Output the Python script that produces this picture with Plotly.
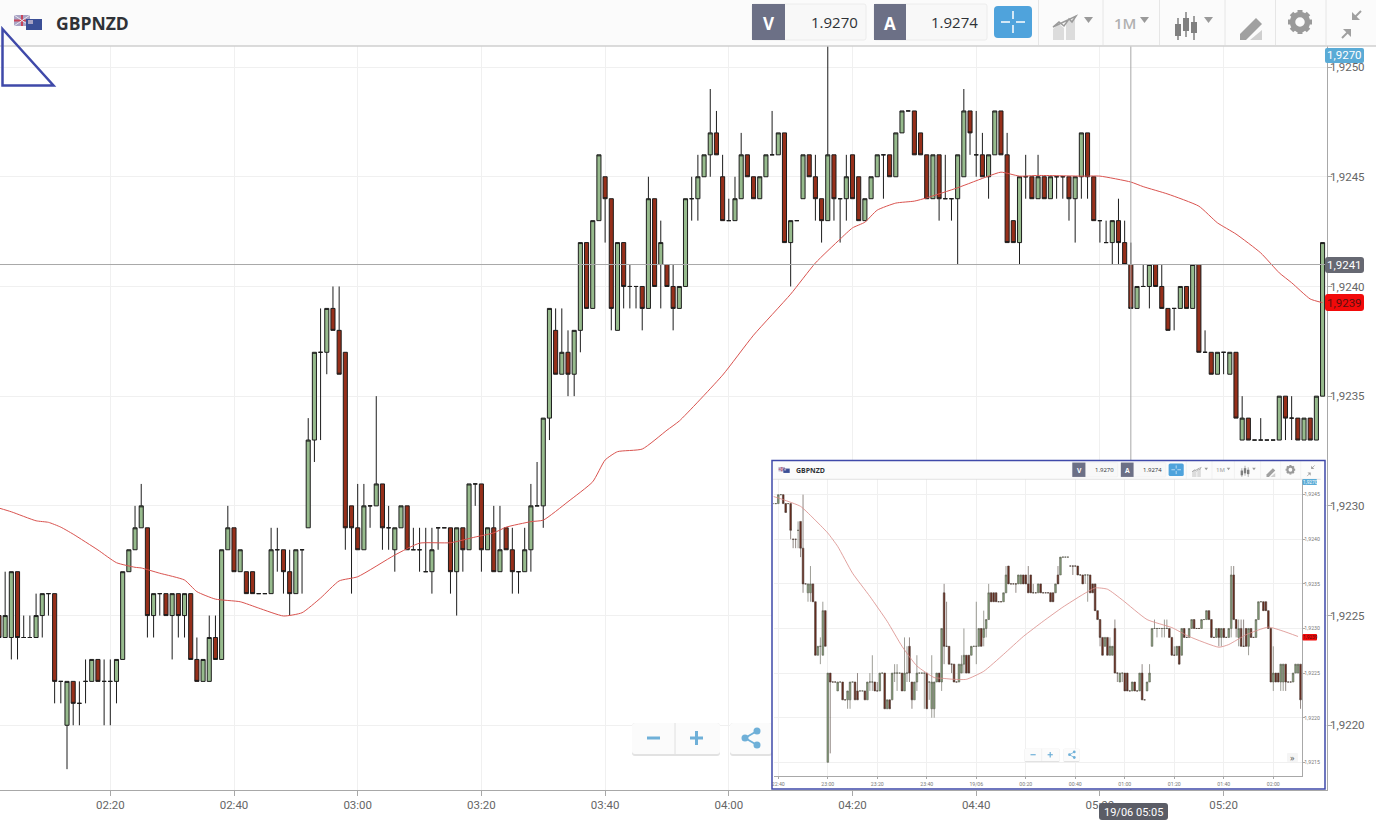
import pandas as pd
import plotly.graph_objects as go

W, H = 1376, 820
PRICE_BASE = 1.92
PIP = 0.0001

# candles as (open, high, low, close) in pips above 1.9200, one per minute
main_start = "2017-06-19 02:02"
main_candles = [
    (25,25,24,24),(24,27,24,25),(24,27,23,27),(27,27,23,24),(24,25,24,24),(24,25,24,24),(24,26,24,25),(25,26,24,26),
    (26,26,25,26),(26,26,21,22),(22,22,21,22),(20,22,18,22),(22,22,20,21),(21,22,20,21),(22,23,21,22),(22,23,22,23),
    (23,23,22,22),(22,23,20,22),(22,23,20,22),(22,23,21,23),(23,27,23,27),(27,28,27,28),(28,30,28,29),(29,31,29,30),
    (29,29,24,25),(25,26,24,26),(26,26,25,26),(26,26,25,25),(25,26,23,26),(26,26,24,25),(25,26,24,26),(26,26,23,23),
    (23,24,22,22),(22,23,22,23),(22,25,22,24),(24,25,23,23),(23,28,23,28),(28,30,28,29),(29,29,27,27),(27,28,27,28),
    (27,27,26,26),(27,27,26,26),(26,26,26,26),(26,26,26,26),(26,29,26,28),(28,29,27,28),(28,28,26,27),(27,28,25,26),
    (26,28,26,28),(28,28,26,28),(29,34,29,33),(33,37,32,37),(37,39,33,37),(37,39,36,39),(39,40,38,38),(38,40,36,36),
    (37,37,28,29),(30,30,26,29),(29,31,28,28),(28,31,28,30),(30,30,29,30),(30,35,30,31),(31,31,28,29),(29,30,28,29),
    (28,29,27,29),(29,30,29,30),(30,30,28,28),(28,29,28,28),(28,29,27,28),(27,29,27,27),(27,29,26,28),(29,29,28,29),
    (29,29,29,29),(29,29,26,27),(27,29,25,29),(29,29,27,28),(28,31,28,31),(31,31,30,31),(31,31,27,28),(28,29,28,29),
    (29,30,27,27),(27,30,27,28),(29,29,28,28),(28,29,26,27),(27,27,26,27),(27,29,27,28),(28,31,27,30),(30,32,30,30),
    (30,34,29,34),(34,39,33,39),(38,39,36,36),(36,39,36,37),(37,38,35,36),(36,38,35,38),(38,42,37,42),(42,42,39,39),
    (39,43,39,43),(43,46,43,46),(45,45,42,44),(44,44,38,39),(38,42,38,42),(42,42,39,40),(40,41,39,40),(40,40,39,40),
    (40,40,38,39),(39,45,39,44),(44,44,40,40),(41,43,39,42),(41,41,40,40),(40,41,38,39),(39,40,39,40),(40,44,40,44),
    (44,45,43,44),(44,46,43,45),(45,46,45,46),(46,49,45,47),(47,48,46,46),(45,46,43,43),(43,44,43,43),(43,45,43,44),
    (44,47,44,46),(46,46,45,45),(45,45,44,44),(44,45,44,45),(45,46,45,46),(46,48,46,46),(46,47,46,47),(47,47,42,42),
    (42,43,40,43),(43,43,43,43),(44,46,44,46),(46,46,45,45),(45,46,43,44),(44,44,42,43),(43,52,43,46),(46,46,43,44),
    (44,44,42,44),(44,46,43,45),(46,46,44,44),(45,45,43,43),(43,44,43,44),(44,45,44,45),(45,46,45,46),(46,46,44,46),
    (46,46,45,45),(45,47,45,47),(47,48,47,48),(48,48,48,48),(48,48,46,46),(47,47,46,46),(46,46,44,44),(44,46,44,46),
    (46,46,43,44),(44,46,44,44),(44,44,43,44),(44,46,41,46),(45,49,45,48),(48,48,46,47),(46,48,45,46),(46,47,45,45),
    (45,46,44,46),(46,48,46,48),(48,48,46,46),(46,47,42,42),(43,43,42,42),(42,45,41,45),(45,46,44,45),(45,45,44,44),
    (44,46,44,45),(45,45,44,44),(44,45,44,45),(45,45,44,45),(45,45,44,45),(45,45,43,44),(44,45,42,45),(45,47,44,47),
    (47,47,44,45),(45,45,43,43),(43,43,42,43),(42,43,42,42),(42,43,41,43),(43,44,41,42),(42,43,41,41),(41,42,39,39),
    (39,40,39,40),(40,41,40,40),(40,41,39,41),(41,41,40,40),(40,41,39,39),(39,39,38,38),(39,39,38,39),(39,40,39,40),
    (40,40,39,39),(39,41,39,41),(41,41,37,37),(37,38,37,37),(37,37,36,36),(36,37,36,37),(37,37,36,37),(36,37,36,37),
    (37,37,34,34),(33,35,33,34),(34,34,33,33),(33,33,33,33),(33,34,33,33),(33,33,33,33),(33,33,33,33),(33,35,33,35),
    (35,35,33,34),(34,35,33,34),(34,34,33,33),(33,34,33,34),(34,34,33,33),(33,35,33,35),(35,42,35,42),
]
main_ma_times = [
    "02:02","02:04","02:08","02:10","02:12","02:14","02:18","02:21","02:24","02:25","02:28","02:32","02:34","02:37",
    "02:41","02:44","02:48","02:51","02:54","02:57","03:00","03:06","03:10","03:15","03:19","03:22","03:24","03:28",
    "03:30","03:34","03:38","03:40","03:42","03:46","03:50","03:52","03:59","04:04","04:10","04:14","04:18","04:20",
    "04:22","04:24","04:27","04:30","04:32","04:37","04:42","04:44","04:47","04:50","04:57","05:00","05:05","05:07",
    "05:11","05:16","05:19","05:22","05:26","05:29","05:31","05:34","05:36",
]
main_ma = [
    29.90,29.73,29.32,29.25,29.03,28.71,27.99,27.41,27.20,27.17,26.93,26.62,26.09,25.75,
    25.63,25.34,24.98,25.13,25.80,26.58,26.77,27.76,28.30,28.32,28.58,28.77,29.03,29.28,
    29.35,30.19,31.10,32.09,32.47,32.59,33.45,33.87,35.96,37.78,39.65,41.07,42.16,42.67,
    42.93,43.48,43.80,43.89,44.04,44.50,45.03,45.21,45.03,45.06,45.03,45.03,44.76,44.55,
    44.21,43.66,42.90,42.39,41.53,40.62,40.17,39.43,39.26,
]
cross_time = "2017-06-19 05:05"
cross_price = 41

inset_start = "2017-06-18 22:38"
inset_candles = [
    (44,44,44,44),(44,44,44,44),(44,45,44,45),(45,45,45,45),(45,45,44,44),(44,44,43,43),(44,44,44,44),(44,44,40,41),
    (40,40,39,40),(40,40,39,40),(41,42,39,41),(42,42,38,39),(39,45,34,35),(35,35,35,35),(34,35,33,35),(34,37,33,35),
    (35,35,33,33),(33,33,27,27),(27,28,27,28),(28,29,26,28),(27,33,27,32),(32,32,28,28),(15,25,15,25),(25,25,16,24),
    (24,24,24,24),(24,24,24,24),(23,24,23,24),(24,24,24,24),(24,24,22,22),(22,22,22,22),(22,23,21,23),(22,24,21,24),
    (24,24,24,24),(24,24,22,22),(23,25,22,22),(23,23,23,23),(23,23,23,23),(23,23,22,22),(22,24,22,24),(24,25,23,24),
    (24,27,23,24),(24,24,23,23),(23,24,23,23),(23,25,23,25),(25,25,25,25),(25,25,21,21),(21,22,21,22),(22,22,21,21),
    (22,25,22,25),(25,26,24,25),(25,26,23,25),(25,25,25,25),(25,25,23,23),(23,29,23,25),(25,28,24,25),(28,29,24,25),
    (24,24,21,22),(22,24,22,24),(24,27,23,25),(25,25,25,25),(25,25,25,25),(25,25,21,25),(25,25,21,21),(24,24,22,24),
    (21,27,20,24),(21,24,20,24),(24,25,24,25),(25,25,24,24),(24,30,23,30),(34,35,26,28),(28,33,28,28),(28,28,26,26),
    (26,26,25,26),(26,26,24,24),(24,24,24,24),(24,26,24,26),(25,27,25,26),(26,30,25,27),(27,27,25,25),(27,27,25,25),
    (27,28,27,28),(28,28,28,28),(28,33,26,28),(28,30,28,30),(30,30,28,28),(29,32,28,30),(30,31,29,31),(31,35,31,34),
    (34,34,33,33),(34,34,33,33),(34,34,33,33),(33,33,33,33),(33,33,33,33),(33,34,33,34),(34,37,34,36),(37,37,35,35),
    (35,35,35,35),(35,35,35,35),(35,35,34,35),(35,36,35,36),(35,36,35,36),(36,36,35,35),(36,36,35,35),(35,37,34,34),
    (36,36,34,34),(34,35,34,34),(34,34,34,34),(34,35,34,35),(35,35,34,34),(34,34,34,34),(34,34,34,34),(34,34,34,34),
    (34,34,33,33),(34,34,33,33),(34,35,34,35),(36,37,35,35),(36,38,36,38),(38,38,38,38),(38,38,38,38),(38,38,38,38),
    (37,37,37,37),(37,37,36,37),(37,37,37,37),(37,37,36,36),(36,36,36,36),(36,36,35,35),(36,36,35,36),(36,36,33,36),
    (36,36,34,34),(35,35,34,34),(35,35,32,32),(32,32,31,31),(31,31,28,29),(29,29,27,27),(28,29,28,29),(29,29,27,27),
    (27,29,27,28),(27,28,27,28),(30,31,25,25),(25,25,24,25),(24,25,24,25),(25,25,24,25),(25,25,23,23),(25,25,23,23),
    (23,23,23,23),(23,24,23,24),(24,24,23,23),(23,23,23,23),(23,25,23,25),(25,26,22,22),(22,22,22,22),(23,24,23,24),
    (24,26,24,25),(28,30,28,30),(30,31,30,30),(30,30,29,30),(30,30,30,30),(30,30,29,30),(30,31,29,30),(30,31,30,30),
    (30,30,29,29),(29,29,27,27),(27,28,27,27),(27,28,27,28),(28,28,26,26),(27,30,27,30),(30,30,29,29),(29,29,29,29),
    (29,30,29,30),(30,31,30,31),(31,31,30,30),(30,30,30,30),(30,30,30,30),(30,31,30,31),(31,31,31,31),(31,32,31,32),
    (32,32,31,31),(31,31,29,29),(29,29,29,29),(29,30,29,30),(30,30,28,29),(29,30,28,30),(30,30,29,29),(29,29,29,29),
    (29,30,29,30),(30,37,29,36),(36,37,31,31),(31,31,29,30),(29,31,28,30),(30,31,28,28),(28,31,28,28),(30,30,28,28),
    (28,30,27,30),(30,30,29,29),(29,29,29,29),(29,31,29,31),(31,33,31,33),(33,33,33,33),(33,33,32,32),(33,33,32,32),
    (32,32,30,30),(30,30,24,24),(24,28,23,25),(25,25,24,24),(25,25,24,24),(24,26,23,26),(24,26,23,26),(26,26,23,24),
    (24,24,24,24),(24,24,24,24),(24,25,24,25),(25,26,25,26),(25,26,25,26),(26,26,21,22),
]
# minutes after 22:40
inset_ma_minutes = [-2,2,9,14,20,24,30,37,44,50,56,63,67,71,76,83,91,99,107,115,123,128,133,139,149,159,166,178,182,189,198,204,210]
inset_ma = [44.8,44.44,43.69,42.4,40.7,39.2,36.2,33.6,30.8,28.0,25.8,24.5,24.4,24.3,24.3,25.2,27.1,29.1,30.8,32.4,33.8,34.55,34.4,33.2,31.0,30.1,29.1,27.9,28.2,29.3,30.15,29.7,29.1]

inset_tick_times = ["2017-06-18 22:40","2017-06-18 23:00","2017-06-18 23:20","2017-06-18 23:40","2017-06-19 00:00","2017-06-19 00:20",
                    "2017-06-19 00:40","2017-06-19 01:00","2017-06-19 01:20","2017-06-19 01:40","2017-06-19 02:00"]
inset_tick_labels = ["22:40","23:00","23:20","23:40","19/06","00:20","00:40","01:00","01:20","01:40","02:00"]

GREEN = "#97bb8d"
RED = "#962f1a"
MA_RED = "#d9534f"
GRID = "#f0f0f0"
AXIS = "#a8a8a8"
FRAME = "#3f49a9"
SLATE = "#6c7086"
BLUE = "#4fa3dc"
ICON = "#9a9a9a"


def to_price(pips):
    return [PRICE_BASE + p * PIP for p in pips]


shapes = []
notes = []


def px(x):
    return x / W


def py(y):
    return 1 - y / H


def box(x0, y0, x1, y1, fill=None, line=None, lw=1):
    shapes.append(dict(type="rect", xref="paper", yref="paper", x0=px(x0), y0=py(y0), x1=px(x1), y1=py(y1), layer="above",
                       fillcolor=fill or "rgba(0,0,0,0)", line=dict(color=line or "rgba(0,0,0,0)", width=lw if line else 0)))


def rbox(x0, y0, x1, y1, r, fill, line=None, lw=1):
    rx, ry = r / W, r / H
    a, b, c, d = px(x0), px(x1), py(y0), py(y1)
    path = (f"M{a+rx},{c} L{b-rx},{c} Q{b},{c} {b},{c-ry} L{b},{d+ry} Q{b},{d} {b-rx},{d} "
            f"L{a+rx},{d} Q{a},{d} {a},{d+ry} L{a},{c-ry} Q{a},{c} {a+rx},{c} Z")
    shapes.append(dict(type="path", xref="paper", yref="paper", path=path, layer="above", fillcolor=fill,
                       line=dict(color=line or "rgba(0,0,0,0)", width=lw if line else 0)))


def seg(x0, y0, x1, y1, color, lw=1):
    shapes.append(dict(type="line", xref="paper", yref="paper", x0=px(x0), y0=py(y0), x1=px(x1), y1=py(y1), layer="above",
                       line=dict(color=color, width=lw)))


def poly(points, fill=None, line=None, lw=1, close=True):
    path = "M" + " L".join(f"{px(x)},{py(y)}" for x, y in points) + (" Z" if close else "")
    shapes.append(dict(type="path", xref="paper", yref="paper", path=path, layer="above", fillcolor=fill or "rgba(0,0,0,0)",
                       line=dict(color=line or "rgba(0,0,0,0)", width=lw if line else 0)))


def dot(cx, cy, r, fill=None, line=None, lw=1):
    shapes.append(dict(type="circle", xref="paper", yref="paper", x0=px(cx - r), y0=py(cy - r), x1=px(cx + r), y1=py(cy + r),
                       layer="above", fillcolor=fill or "rgba(0,0,0,0)", line=dict(color=line or "rgba(0,0,0,0)", width=lw if line else 0)))


def label(x, y, text, size, color, anchor="center", weight=400, family="Open Sans"):
    notes.append(dict(xref="paper", yref="paper", x=px(x), y=py(y), text=text, showarrow=False, xanchor=anchor, yanchor="middle",
                      font=dict(size=size, color=color, family=family, weight=weight), borderpad=0))


def draw_flags(f, s):
    x0, y0 = f(14, 15)
    x1, y1 = f(30, 26)
    box(x0, y0, x1, y1, fill="#a9a3c4")
    seg(x0, (y0 + y1) / 2, x1, (y0 + y1) / 2, "#c8455a", max(2 * s, .6))
    seg((x0 + x1) / 2, y0, (x0 + x1) / 2, y1, "#c8455a", max(2 * s, .6))
    seg(x0, y0, x1, y1, "#e8e8f0", max(s, .4))
    seg(x0, y1, x1, y0, "#e8e8f0", max(s, .4))
    x0, y0 = f(26, 19)
    x1, y1 = f(42, 30)
    box(x0, y0, x1, y1, fill="#3b4f96")
    a, b = f(28, 20), f(33, 24)
    box(a[0], a[1], b[0], b[1], fill="#a9a3c4")


def draw_toolbar(ox, oy, s):
    def f(x, y):
        return ox + x * s, oy + y * s

    def L(x0, y0, x1, y1, color, lw):
        a, b = f(x0, y0), f(x1, y1)
        seg(a[0], a[1], b[0], b[1], color, lw * s)

    def R(x0, y0, x1, y1, fill, line=None, r=0):
        a, b = f(x0, y0), f(x1, y1)
        if r:
            rbox(a[0], a[1], b[0], b[1], r * s, fill, line, max(s, .4))
        else:
            box(a[0], a[1], b[0], b[1], fill=fill, line=line, lw=max(s, .4))

    def P(points, fill=None, line=None, lw=1):
        poly([f(x, y) for x, y in points], fill=fill, line=line, lw=lw * s)

    def T(x, y, text, size, color, anchor="center", weight=400):
        a = f(x, y)
        label(a[0], a[1], text, size * s, color, anchor, weight)

    R(0, 0, 1376, 46, "#fbfbfb")
    L(0, 46, 1376, 46, "#cfcfcf", 1.5)
    draw_flags(f, s)
    T(55, 23, "GBPNZD", 17.5, "#2f3237", "left", 700)

    R(752, 4, 866, 40, "#f8f8f8", "#ececec", 2)
    R(752, 4, 785, 40, SLATE)
    T(769, 23, "V", 17, "#ffffff", "center", 700)
    T(859, 22, "1.9270", 15, "#2f3237", "right", 500)
    R(874, 4, 987, 40, "#f8f8f8", "#ececec", 2)
    R(874, 4, 906, 40, SLATE)
    T(890, 23, "A", 17, "#ffffff", "center", 700)
    T(979, 22, "1.9274", 15, "#2f3237", "right", 500)

    R(994, 6, 1032, 38, BLUE, r=4)
    L(1001, 22, 1010, 22, "#ffffff", 1.5)
    L(1016, 22, 1025, 22, "#ffffff", 1.5)
    L(1013, 11, 1013, 19, "#ffffff", 1.5)
    L(1013, 25, 1013, 33, "#ffffff", 1.5)

    for sep in [1038.5, 1103, 1159.5, 1225, 1275.5, 1326]:
        L(sep, 0, sep, 45, "#e6e6e6", 1)

    # chart type icon
    P([(1053, 40), (1053, 29), (1059, 24), (1064, 28), (1064, 40)], fill="#dcdcdc")
    P([(1066, 40), (1066, 22), (1075, 18), (1075, 40)], fill="#dcdcdc")
    P([(1053, 27), (1059, 22), (1064, 26), (1069, 19), (1072, 22), (1076, 16)], line=ICON, lw=1.5)
    P([(1084, 17), (1093, 17), (1088.5, 23)], fill=ICON)

    T(1125, 23, "1M", 15, "#b0b0b0", "center", 600)
    P([(1140, 17), (1149, 17), (1144.5, 23)], fill=ICON)

    # candle icon
    for cx, y0, y1, b0, b1 in [(1178, 18, 40, 24, 36), (1186, 12, 37, 18, 31), (1194, 16, 40, 22, 33)]:
        L(cx, y0, cx, y1, "#808080", 1.5)
        R(cx - 3, b0, cx + 3, b1, "#808080")
    P([(1204, 17), (1213, 17), (1208.5, 23)], fill=ICON)

    # pencil icon
    P([(1240, 34), (1256, 18), (1262, 24), (1246, 40), (1240, 40)], fill="#a0a0a0")
    P([(1250, 40), (1262, 30), (1262, 40)], fill="#cfcfcf")

    # gear icon
    gx, gy = f(1300, 22)
    dot(gx, gy, 7.5 * s, line=ICON, lw=5.5 * s)
    for a, b, c, d in [(1300, 10, 1300, 34), (1288, 22, 1312, 22), (1291.5, 13.5, 1308.5, 30.5), (1291.5, 30.5, 1308.5, 13.5)]:
        L(a, b, a + (c - a) * .12, b + (d - b) * .12, ICON, 5)
        L(c, d, c - (c - a) * .12, d - (d - b) * .12, ICON, 5)

    # compress arrows
    L(1342, 38, 1349, 31, "#a0a0a0", 2)
    P([(1343, 29), (1351, 29), (1351, 37)], fill="#a0a0a0")
    L(1361, 11, 1354, 18, "#a0a0a0", 2)
    P([(1352, 12), (1352, 20), (1360, 20)], fill="#a0a0a0")


def draw_zoom_buttons(ox, oy, s, share_right):
    def f(x, y):
        return ox + x * s, oy + y * s

    a, b = f(632, 723), f(720, 756)
    rbox(a[0], a[1], b[0], b[1], 3 * s, "#e2e2e2")
    b = f(720, 754)
    rbox(a[0], a[1], b[0], b[1], 3 * s, "#fbfbfb")
    a, b = f(730, 723), f(share_right, 756)
    rbox(a[0], a[1], b[0], b[1], 3 * s, "#e2e2e2")
    b = f(share_right, 754)
    rbox(a[0], a[1], b[0], b[1], 3 * s, "#fbfbfb")
    a, b = f(675, 723), f(675, 754)
    seg(a[0], a[1], b[0], b[1], "#e0e0e0", max(s, .4))
    c = "#6fb0d8"
    a, b = f(647, 738), f(660, 738)
    seg(a[0], a[1], b[0], b[1], c, 3 * s)
    a, b = f(690, 738), f(703, 738)
    seg(a[0], a[1], b[0], b[1], c, 3 * s)
    a, b = f(696.5, 731), f(696.5, 745)
    seg(a[0], a[1], b[0], b[1], c, 3 * s)
    p0, p1, p2 = f(745, 738), f(757, 731), f(757, 745)
    seg(p0[0], p0[1], p1[0], p1[1], c, 2 * s)
    seg(p0[0], p0[1], p2[0], p2[1], c, 2 * s)
    dot(p0[0], p0[1], 3.5 * s, fill=c)
    dot(p1[0], p1[1], 3.5 * s, fill=c)
    dot(p2[0], p2[1], 3.5 * s, fill=c)


main_times = pd.date_range(main_start, periods=len(main_candles), freq="min")
main_open, main_high, main_low, main_close = [to_price(col) for col in zip(*main_candles)]
main_ma_x = ["2017-06-19 " + t for t in main_ma_times]

inset_times = pd.date_range(inset_start, periods=len(inset_candles), freq="min")
inset_open, inset_high, inset_low, inset_close = [to_price(col) for col in zip(*inset_candles)]
inset_ma_x = [pd.Timestamp("2017-06-18 22:40") + pd.Timedelta(minutes=m) for m in inset_ma_minutes]

fig = go.Figure()

# main chart
fig.add_trace(go.Candlestick(
    x=main_times, open=main_open, high=main_high, low=main_low, close=main_close, whiskerwidth=0, hoverinfo="skip", showlegend=False,
    increasing=dict(fillcolor=GREEN, line=dict(color="#1c1c1c", width=1)),
    decreasing=dict(fillcolor=RED, line=dict(color="#1c1c1c", width=1)),
))
fig.add_trace(go.Scatter(x=main_ma_x, y=to_price(main_ma), mode="lines", line=dict(color=MA_RED, width=1, shape="spline", smoothing=.5),
                         hoverinfo="skip", showlegend=False))
fig.add_trace(go.Scatter(x=[main_times[0] - pd.Timedelta(minutes=5), main_times[-1] + pd.Timedelta(minutes=5)],
                         y=to_price([cross_price, cross_price]), mode="lines", line=dict(color="#a8a8a8", width=1), hoverinfo="skip", showlegend=False))
fig.add_trace(go.Scatter(x=[cross_time, cross_time], y=to_price([10, 60]), mode="lines", line=dict(color="#a8a8a8", width=1), hoverinfo="skip", showlegend=False))

# white card that hides the main chart behind the inset
fig.add_trace(go.Scatter(x=[None], y=[None], xaxis="x2", yaxis="y2", hoverinfo="skip", showlegend=False))

# inset chart
fig.add_trace(go.Candlestick(
    x=inset_times, open=inset_open, high=inset_high, low=inset_low, close=inset_close, whiskerwidth=0, hoverinfo="skip", showlegend=False,
    xaxis="x3", yaxis="y3",
    increasing=dict(fillcolor="#84a07a", line=dict(color="#5c5c50", width=.6)),
    decreasing=dict(fillcolor="#6b2a1c", line=dict(color="#4a3a34", width=.6)),
))
fig.add_trace(go.Scatter(x=inset_ma_x, y=to_price(inset_ma), mode="lines", xaxis="x3", yaxis="y3",
                         line=dict(color="#d98a86", width=.8, shape="spline", smoothing=.5), hoverinfo="skip", showlegend=False))

draw_toolbar(0, 0, 1)
draw_zoom_buttons(0, 0, 1, 772)

# triangle mark in the corner
poly([(2.5, 29), (53.5, 85.5), (2.5, 85.5)], line=FRAME, lw=2.5)

# right hand price tags
rbox(1325, 48, 1364, 63, 2, "#5aabd6")
label(1344.5, 55.5, "1,9270", 11.5, "#ffffff", family="Roboto")
rbox(1325, 257, 1364, 273, 3, "#666872")
label(1344.5, 265.5, "1,9241", 11.5, "#ffffff", family="Roboto")
rbox(1325, 294, 1364, 311, 3, "#f20a0a")
label(1344.5, 302.5, "1,9239", 11.5, "#5a1010", family="Roboto")
rbox(1099, 803, 1168, 820, 3, "#5b5d66")
label(1133.5, 812, "19/06 05:05", 11, "#ffffff", family="Roboto")

# inset furniture
draw_toolbar(773, 461, .398)
draw_zoom_buttons(773, 461, .398, 770)
rbox(1287, 753, 1298, 762, 1, "#f5f5f5")
label(1292.5, 757, "»", 9, "#555555")
rbox(1302.5, 479, 1317, 485, 1, "#5aabd6")
label(1310, 482, "1,9270", 4.8, "#ffffff", family="Roboto")
rbox(1302.5, 634, 1317, 640.5, 1, "#f20a0a")
label(1310, 637, "1,9239", 4.8, "#5a1010", family="Roboto")
box(772, 460.5, 1325, 789, line=FRAME, lw=1.5)

axis_font = dict(family="Roboto", size=11.5, color="#666666")
inset_font = dict(family="Roboto", size=5.2, color="#777777")

fig.update_layout(
    width=W, height=H, margin=dict(l=0, r=0, t=0, b=0, autoexpand=False), paper_bgcolor="#ffffff", plot_bgcolor="#ffffff",
    separators=", ", showlegend=False, shapes=shapes, annotations=notes, boxgap=.34, boxgroupgap=0,
    xaxis=dict(domain=[0, 1326.7 / W], type="date", range=["2017-06-19 02:02:10", "2017-06-19 05:36:40"], anchor="y",
               tick0="2017-06-19 00:00", dtick=1200000, tickformat="%H:%M", ticks="outside", ticklen=5, tickcolor=AXIS,
               ticklabelstandoff=-1, gridcolor=GRID, showline=True, linecolor=AXIS, tickfont=axis_font, rangeslider=dict(visible=False)),
    yaxis=dict(domain=[1 - 790 / H, 1 - 46 / H], side="right", anchor="x", range=[1.921705, 1.925096],
               tick0=1.922, dtick=.0005, tickformat=".4f", ticks="outside", ticklen=4, tickcolor=AXIS, ticklabelstandoff=-4,
               gridcolor=GRID, showline=True, linecolor=AXIS, tickfont=axis_font, zeroline=False),
    xaxis2=dict(domain=[772 / W, 1325 / W], visible=False, anchor="y2", range=[0, 1]),
    yaxis2=dict(domain=[1 - 789 / H, 1 - 460.5 / H], visible=False, anchor="x2", range=[0, 1]),
    xaxis3=dict(domain=[773.5 / W, 1302.3 / W], type="date", range=["2017-06-18 22:38:04", "2017-06-19 02:11:43"], anchor="y3",
                tickvals=inset_tick_times, ticktext=inset_tick_labels, ticks="outside", ticklen=2, tickcolor=AXIS, tickwidth=.5,
                gridcolor=GRID, showline=True, linecolor=AXIS, tickfont=inset_font, rangeslider=dict(visible=False)),
    yaxis3=dict(domain=[1 - 776.3 / H, 1 - 478.7 / H], side="right", anchor="x3", range=[1.921343, 1.924679],
                tick0=1.9215, dtick=.0005, tickformat=".4f", ticks="outside", ticklen=2, tickcolor=AXIS, tickwidth=.5, ticklabelstandoff=-2,
                gridcolor=GRID, showline=True, linecolor=AXIS, tickfont=inset_font, zeroline=False),
)

fig.write_html("out.html", config=dict(displayModeBar=False),
               post_script="document.body.style.margin='0';document.body.style.overflow='hidden';")
